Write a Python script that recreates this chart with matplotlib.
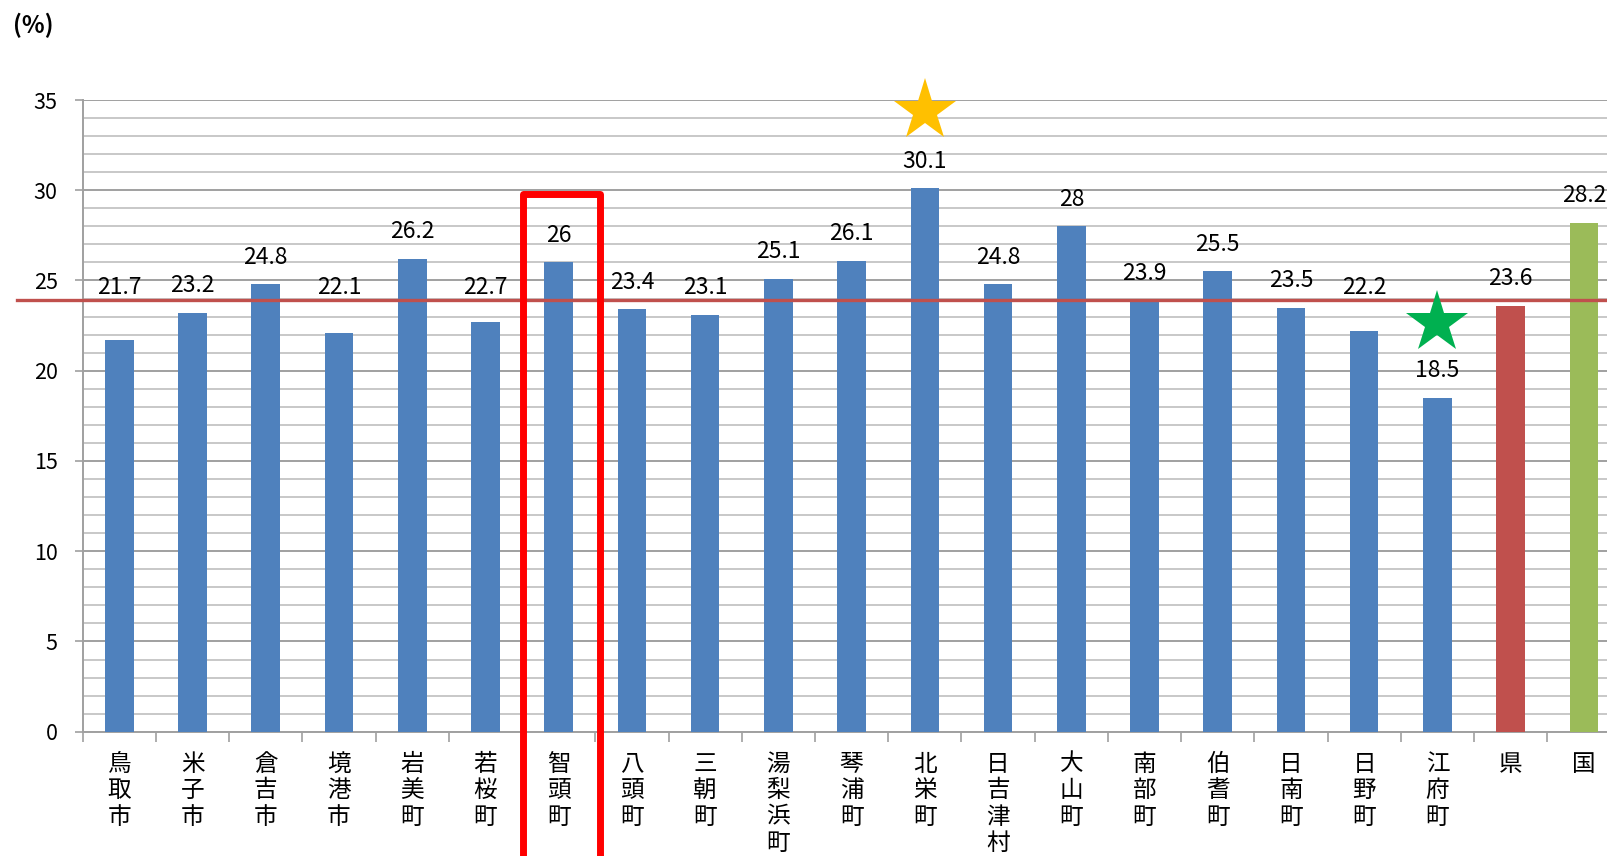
import matplotlib
matplotlib.use("Agg")
import matplotlib.pyplot as plt
from matplotlib.ticker import MultipleLocator, FixedLocator
from matplotlib.patches import Rectangle
import matplotlib.transforms as mtransforms

plt.rcParams['font.family'] = ['Noto Sans CJK JP', 'DejaVu Sans']

categories = ["鳥取市", "米子市", "倉吉市", "境港市", "岩美町", "若桜町", "智頭町", "八頭町",
              "三朝町", "湯梨浜町", "琴浦町", "北栄町", "日吉津村", "大山町", "南部町", "伯耆町",
              "日南町", "日野町", "江府町", "県", "国"]
values = [21.7, 23.2, 24.8, 22.1, 26.2, 22.7, 26.0, 23.4, 23.1, 25.1, 26.1, 30.1, 24.8, 28.0,
          23.9, 25.5, 23.5, 22.2, 18.5, 23.6, 28.2]
value_labels = ["21.7", "23.2", "24.8", "22.1", "26.2", "22.7", "26", "23.4", "23.1", "25.1",
                "26.1", "30.1", "24.8", "28", "23.9", "25.5", "23.5", "22.2", "18.5", "23.6", "28.2"]
reference_line = 23.9
highlight = "智頭町"
best = "北栄町"
worst = "江府町"

BLUE, RED, GREEN = "#4F81BD", "#C0504D", "#9BBB59"
colors = [BLUE] * 19 + [RED, GREEN]

fig = plt.figure(figsize=(16.07, 8.56), dpi=100)
ax = fig.add_axes([82.7 / 1607, 124.3 / 856, 1537.8 / 1607, 631.7 / 856])

x = list(range(len(categories)))
ax.bar(x, values, width=0.39, color=colors, zorder=3)
ax.set_xlim(-0.5, len(categories) - 0.5)
ax.set_ylim(0, 35)

# grid
ax.yaxis.set_major_locator(MultipleLocator(5))
ax.yaxis.set_minor_locator(MultipleLocator(1))
ax.grid(axis='y', which='minor', color='#C8C8C8', linewidth=1.4, zorder=0)
ax.grid(axis='y', which='major', color='#A0A0A0', linewidth=1.4, zorder=0)
ax.tick_params(axis='y', which='major', length=6, width=1.2, color='#A0A0A0',
               labelsize=15.5, pad=12)
ax.tick_params(axis='y', which='minor', length=0)

# x ticks
ax.xaxis.set_major_locator(FixedLocator(x))
ax.set_xticklabels(["\n".join(c) for c in categories], fontsize=17, linespacing=1.2,
                   va='top')
ax.tick_params(axis='x', which='major', length=0, pad=15)
ax.xaxis.set_minor_locator(FixedLocator([i - 0.5 for i in range(len(categories) + 1)]))
ax.tick_params(axis='x', which='minor', length=7, width=1.2, color='#A0A0A0')

for s in ['top', 'right']:
    ax.spines[s].set_visible(False)
for s in ['left', 'bottom']:
    ax.spines[s].set_color('#A0A0A0')
    ax.spines[s].set_linewidth(1.4)

# value labels (labels of bars just below the reference line are lifted above it)
for xi, v, lab in zip(x, values, value_labels):
    y = v + 1.5
    if reference_line - 3 < v < 23.0:
        y = reference_line + 0.7
    ax.text(xi, y, lab, ha='center', va='center', fontsize=16.5, zorder=5)

# reference line
trans = mtransforms.blended_transform_factory(ax.transAxes, ax.transData)
ax.plot([-0.0427, 1.0], [reference_line, reference_line], transform=trans, color=RED,
        linewidth=2.4, clip_on=False, zorder=4)

# highlight box
hi = categories.index(highlight)
ax.add_patch(Rectangle((hi - 0.49, -12), 1.05, 41.8, fill=False, edgecolor='#FF0000',
                       linewidth=5, clip_on=False, zorder=6, joinstyle='round'))

# stars
bi = categories.index(best)
wi = categories.index(worst)
ax.plot([bi], [34.4], marker='*', markersize=47, color='#FFC000', clip_on=False, zorder=6,
        markeredgewidth=0)
ax.plot([wi], [22.65], marker='*', markersize=47, color='#00B050', clip_on=False, zorder=6,
        markeredgewidth=0)

fig.text(13 / 1607, 1 - 25 / 856, "(%)", fontsize=17, fontweight='bold', ha='left',
         va='center')

fig.savefig("out.png", dpi=100)
